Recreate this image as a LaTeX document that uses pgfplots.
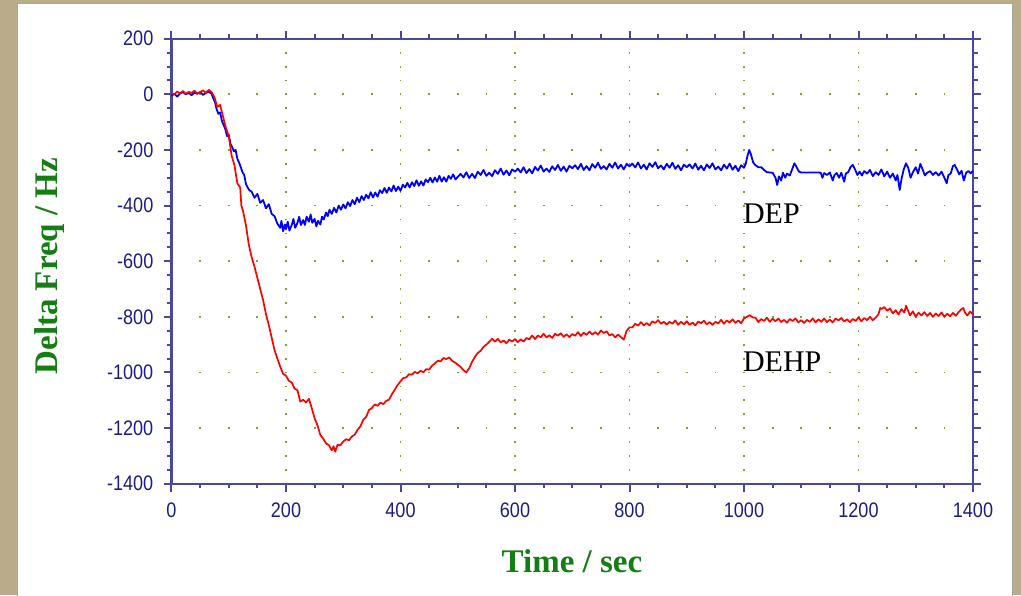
\documentclass[border=0pt]{standalone}
\usepackage{pgfplots}
\pgfplotsset{compat=1.18}
\usepackage{pgfplotstable}
\usepackage{fontspec}
\setmainfont{Liberation Serif}
\newfontfamily\ticksf[FakeStretch=0.86]{Liberation Sans}
\definecolor{axisblue}{RGB}{72,72,160}
\definecolor{tickblue}{RGB}{30,30,130}
\definecolor{gridgreen}{RGB}{120,170,50}
\definecolor{labgreen}{RGB}{20,125,20}
\definecolor{frame}{RGB}{186,172,138}

\pgfplotstableread{
x y
0 -5
5 2
10 -8
15 3
20 8
25 0
30 5
35 -3
40 6
45 2
50 8
55 -2
60 5
65 9
70 2
73 -15
76 -28
79 -55
82 -70
85 -65
88 -95
91 -110
94 -125
97 -150
100 -145
103 -178
106 -190
109 -205
112 -200
115 -232
118 -245
121 -262
124 -280
127 -290
130 -322
133 -335
136 -345
140 -350
145 -372
150 -358
155 -390
160 -380
165 -410
170 -395
175 -430
180 -438
185 -465
190 -480
192 -455
195 -492
198 -468
200 -485
203 -458
206 -490
210 -470
213 -448
216 -480
220 -462
223 -440
226 -470
230 -452
233 -470
236 -440
240 -458
243 -432
246 -462
250 -448
253 -475
256 -455
260 -468
263 -440
266 -450
270 -425
273 -438
276 -415
280 -430
284 -408
288 -425
292 -400
296 -415
300 -396
304 -410
308 -388
312 -402
316 -380
320 -395
324 -372
328 -388
332 -366
336 -380
340 -361
344 -374
348 -352
352 -371
356 -353
360 -368
364 -345
368 -355
372 -337
376 -354
380 -335
384 -349
388 -328
392 -348
396 -332
400 -347
404 -325
408 -335
412 -318
416 -335
420 -316
424 -330
428 -309
432 -329
436 -313
440 -328
444 -306
448 -316
452 -300
456 -317
460 -299
464 -314
468 -293
472 -314
476 -298
480 -314
484 -293
488 -304
492 -288
496 -306
500 -297
505 -286
510 -299
515 -280
520 -301
525 -286
530 -301
535 -278
540 -290
545 -272
550 -293
555 -282
560 -294
565 -273
570 -286
575 -267
580 -289
585 -274
590 -291
595 -270
600 -278
605 -267
610 -281
615 -262
620 -283
625 -269
630 -284
635 -261
640 -274
645 -256
650 -278
655 -267
660 -279
665 -259
670 -272
675 -254
680 -275
685 -260
690 -278
695 -257
700 -266
705 -255
710 -269
715 -250
720 -272
725 -258
730 -273
735 -251
740 -264
745 -246
750 -268
755 -258
760 -270
765 -250
770 -264
775 -245
780 -267
785 -253
790 -270
795 -250
800 -259
805 -249
810 -263
815 -245
820 -267
825 -253
830 -270
835 -248
840 -261
845 -244
850 -266
855 -256
860 -270
865 -250
870 -264
875 -246
880 -268
885 -255
890 -273
895 -253
900 -262
905 -252
910 -267
915 -249
920 -271
925 -257
930 -273
935 -252
940 -265
945 -248
950 -270
955 -260
960 -273
965 -253
970 -267
975 -249
980 -271
985 -257
990 -276
995 -255
1000 -264
1003 -250
1006 -222
1009 -200
1012 -215
1016 -245
1020 -255
1025 -262
1030 -262
1035 -272
1040 -280
1045 -281
1050 -282
1055 -300
1058 -326
1061 -295
1065 -310
1068 -282
1072 -300
1075 -285
1080 -292
1084 -270
1088 -248
1092 -262
1096 -278
1100 -281
1110 -281
1120 -281
1130 -281
1134 -282
1137 -300
1140 -283
1145 -290
1150 -281
1155 -310
1158 -290
1162 -283
1166 -300
1170 -282
1175 -314
1178 -284
1182 -280
1186 -262
1190 -254
1194 -270
1198 -290
1202 -278
1206 -292
1210 -276
1215 -285
1220 -272
1225 -294
1230 -280
1235 -290
1240 -270
1245 -295
1250 -278
1255 -300
1260 -285
1265 -310
1268 -290
1272 -344
1275 -305
1279 -270
1283 -248
1287 -265
1291 -300
1295 -280
1300 -262
1304 -285
1308 -250
1312 -270
1316 -292
1320 -282
1325 -276
1330 -290
1335 -280
1340 -292
1345 -278
1350 -300
1354 -320
1357 -290
1361 -285
1365 -258
1368 -254
1372 -270
1376 -288
1380 -275
1384 -310
1388 -282
1392 -276
1396 -284
1400 -275
}\dep

\pgfplotstableread{
x y
0 5
5 0
10 10
15 4
20 12
25 2
30 9
35 5
40 13
45 3
50 8
55 14
60 6
65 16
70 8
75 -10
80 -45
85 -38
90 -80
95 -120
100 -150
105 -220
110 -255
115 -320
120 -335
122 -400
125 -420
130 -470
135 -540
140 -585
145 -620
150 -660
155 -700
160 -740
165 -790
170 -830
175 -875
180 -920
185 -950
190 -980
195 -1005
200 -1012
205 -1030
210 -1036
215 -1058
220 -1064
225 -1105
230 -1098
235 -1108
240 -1095
245 -1128
250 -1165
255 -1190
260 -1225
265 -1238
270 -1255
275 -1262
280 -1280
283 -1265
286 -1285
290 -1260
295 -1262
300 -1248
305 -1240
310 -1244
315 -1230
320 -1224
325 -1206
330 -1194
335 -1170
340 -1160
345 -1135
350 -1128
355 -1115
360 -1120
365 -1108
370 -1114
375 -1102
380 -1098
385 -1078
390 -1062
395 -1045
400 -1032
405 -1020
410 -1018
415 -1006
420 -1008
425 -998
430 -1003
435 -994
440 -999
445 -988
450 -990
455 -976
460 -968
465 -958
470 -960
475 -948
480 -952
485 -946
490 -958
495 -964
500 -972
505 -980
510 -992
515 -1000
518 -990
520 -985
525 -962
530 -944
535 -930
540 -922
545 -908
550 -900
555 -890
560 -879
565 -889
570 -879
575 -892
580 -885
585 -895
590 -882
595 -889
600 -880
605 -891
610 -881
615 -889
620 -876
625 -881
630 -867
635 -880
640 -867
645 -874
650 -861
655 -874
660 -866
665 -876
670 -861
675 -868
680 -859
685 -872
690 -863
695 -873
700 -862
705 -868
710 -855
715 -869
720 -857
725 -865
730 -853
735 -864
740 -855
745 -864
750 -849
755 -858
760 -852
765 -867
770 -862
775 -874
780 -864
785 -873
790 -882
795 -850
800 -838
805 -838
810 -825
815 -832
820 -819
825 -831
830 -822
835 -831
840 -816
845 -822
850 -812
855 -825
860 -818
865 -828
870 -818
875 -825
880 -813
885 -829
890 -818
895 -827
900 -816
905 -829
910 -821
915 -831
920 -817
925 -823
930 -814
935 -827
940 -819
945 -829
950 -818
955 -824
960 -811
965 -825
970 -813
975 -821
980 -809
985 -822
990 -813
995 -823
1000 -806
1005 -800
1010 -794
1015 -802
1020 -803
1025 -819
1030 -808
1035 -815
1040 -803
1045 -818
1050 -807
1055 -816
1060 -806
1065 -819
1070 -811
1075 -821
1080 -808
1085 -815
1090 -806
1095 -820
1100 -812
1105 -822
1110 -811
1115 -818
1120 -806
1125 -820
1130 -809
1135 -818
1140 -806
1145 -819
1150 -810
1155 -820
1160 -806
1165 -813
1170 -804
1175 -817
1180 -809
1185 -819
1190 -808
1195 -815
1200 -802
1205 -816
1210 -804
1215 -812
1220 -800
1225 -812
1230 -803
1235 -790
1238 -768
1240 -772
1245 -765
1250 -778
1255 -770
1260 -788
1265 -776
1270 -792
1275 -772
1280 -785
1283 -760
1286 -775
1290 -795
1295 -780
1300 -800
1305 -785
1310 -795
1315 -783
1320 -797
1325 -786
1330 -800
1335 -788
1340 -797
1345 -784
1350 -800
1355 -789
1360 -798
1365 -786
1370 -796
1375 -783
1380 -772
1383 -768
1386 -785
1390 -795
1395 -781
1400 -792
}\dehp

\begin{document}
\begin{tikzpicture}
\useasboundingbox (0pt,0pt) rectangle (1021pt,595pt);
\fill[frame] (0pt,0pt) rectangle (1021pt,595pt);
\fill[white,draw=black!35,line width=1pt] (17pt,-2pt) rectangle (1012pt,591pt);
\begin{axis}[
  at={(171.5pt,111.3pt)}, anchor=south west,
  scale only axis, width=801.5pt, height=445pt,
  xmin=0, xmax=1400, ymin=-1400, ymax=200,
  xtick={0,200,...,1400},
  xticklabels={0,200,400,600,800,1000,1200,1400},
  ytick={-1400,-1200,-1000,-800,-600,-400,-200,0,200},
  yticklabels={-1400,-1200,-1000,-800,-600,-400,-200,0,200},
  minor x tick num=3, minor y tick num=3,
  tick align=outside,
  major tick length=8pt, minor tick length=4.5pt,
  tick style={axisblue, line width=2pt},
  axis line style={axisblue, line width=2.2pt},
  tick label style={font=\ticksf\fontsize{21}{21}\selectfont, text=tickblue},
  xticklabel style={anchor=north, inner sep=0pt, yshift=-11pt},
  yticklabel style={anchor=east, inner sep=0pt, xshift=-10pt},
  grid=major,
  major x grid style={gridgreen, line width=1.8pt, dash pattern=on 1.8pt off 12.1pt, dash phase=0.9pt},
  major y grid style={gridgreen, line width=1.8pt, dash pattern=on 1.8pt off 26.83pt, dash phase=0.9pt},
  every axis x label/.style={at={(axis description cs:0.4997,-0.199)}, anchor=base},
  every axis y label/.style={at={(axis description cs:-0.1516,0.489)}, anchor=center, rotate=90},
  label style={font=\bfseries\fontsize{33}{33}\selectfont, text=labgreen},
  xlabel={Time / sec},
  ylabel={Delta Freq / Hz},
  clip=true,
]
\addplot[blue, line width=1.8pt, mark=none, line join=round] table[x=x,y=y] {\dep};
\addplot[red, line width=1.7pt, mark=none, line join=round] table[x=x,y=y] {\dehp};
\node[anchor=base west, inner sep=0pt, font=\fontsize{30}{30}\selectfont] at (axis cs:998,-466) {DEP};
\node[anchor=base west, inner sep=0pt, font=\fontsize{30}{30}\selectfont] at (axis cs:998,-997) {DEHP};
\end{axis}
\end{tikzpicture}
\end{document}
